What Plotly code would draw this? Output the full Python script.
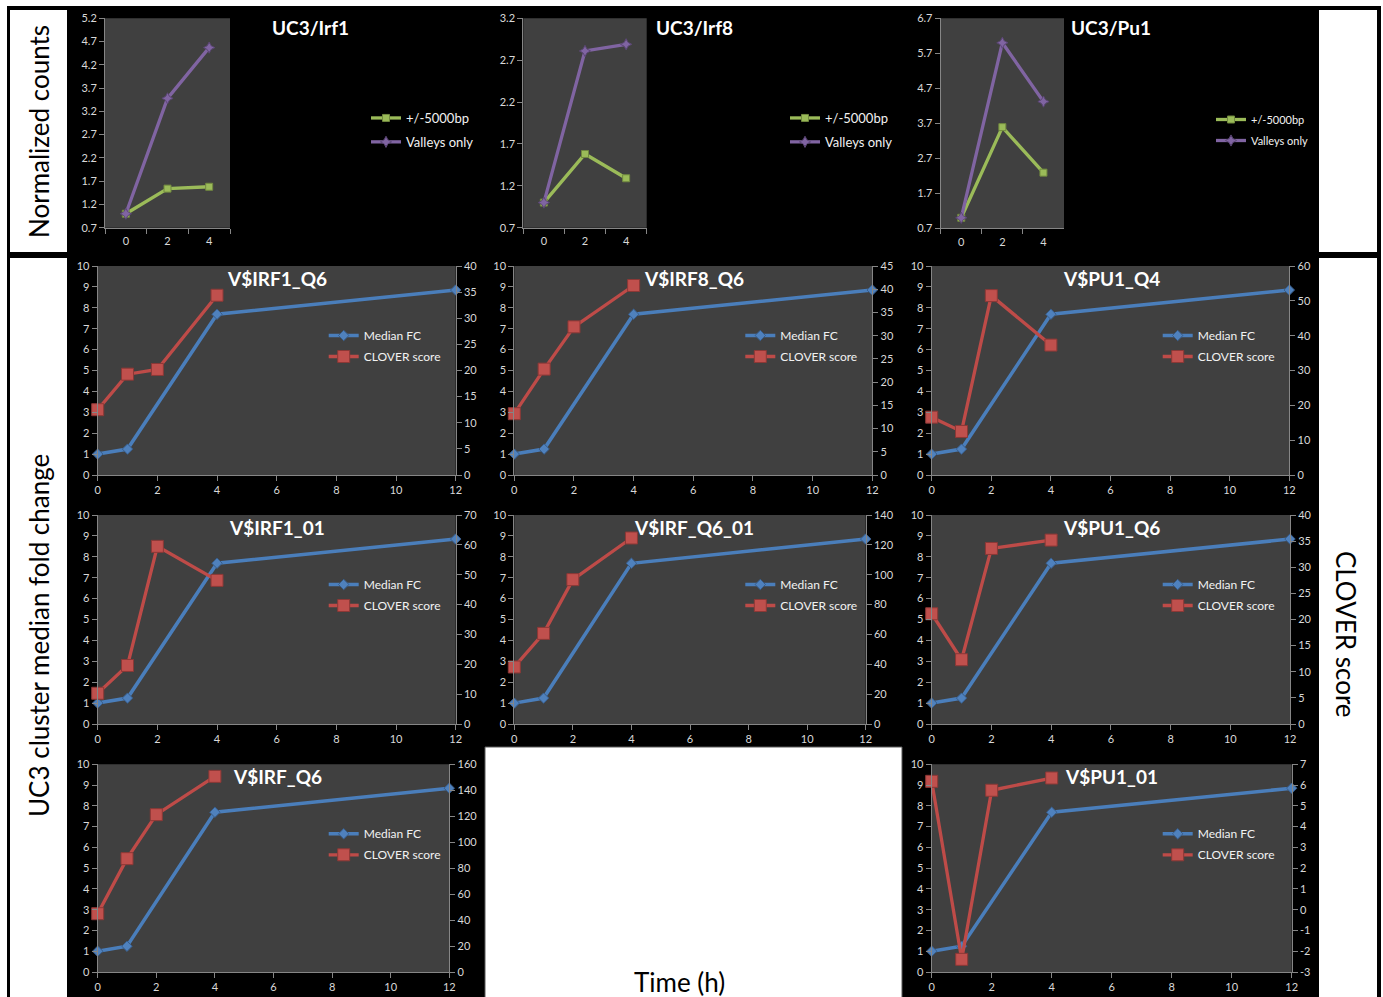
import plotly.graph_objects as go

W, H = 1383, 997

# ---------------- top row: normalized counts (UC3 members) ----------------
count_times = ["0", "2", "4"]
irf1_5000bp = [1.0, 1.54, 1.58]
irf1_valleys = [1.0, 3.48, 4.57]
irf8_5000bp = [1.0, 1.58, 1.29]
irf8_valleys = [1.0, 2.81, 2.89]
pu1_5000bp = [1.0, 3.59, 2.29]
pu1_valleys = [1.0, 6.0, 4.32]

# ---------------- median fold change and CLOVER scores ----------------
fc_times = [0, 1, 4, 12]
median_fc = [1.0, 1.24, 7.69, 8.85]
clover_times = [0, 1, 2, 4]
clover_irf1_q6 = [12.5, 19.3, 20.2, 34.4]
clover_irf8_q6 = [13.2, 22.8, 31.9, 40.8]
clover_pu1_q4 = [16.6, 12.5, 51.5, 37.3]
clover_irf1_01 = [10.3, 19.6, 59.5, 48.1]
clover_irf_q6_01 = [38.2, 60.7, 96.7, 124.6]
clover_pu1_q6 = [21.1, 12.3, 33.6, 35.2]
clover_irf_q6 = [44.9, 87.3, 121.2, 150.7]
clover_pu1_01 = [6.18, -2.39, 5.75, 6.34]

# ---------------- styling ----------------
FONT = "Lato, 'Open Sans', sans-serif"
AX_LINE = "#868686"
TICK_COLOR = "#d9d9d9"
PLOT_BG = "#404040"
BLUE, BLUE_DARK = "#4f81bd", "#385d8a"
RED, RED_DARK = "#c0504d", "#8c3836"
GREEN, GREEN_DARK = "#9bbb59", "#71893f"
PURPLE, PURPLE_DARK = "#8064a2", "#5c4776"


def fx(px):
    """pixel column -> paper x"""
    return px / W


def fy(py):
    """pixel row -> paper y"""
    return 1 - py / H


def axname(kind, i):
    return f"{kind}axis" if i == 1 else f"{kind}axis{i}"


def axref(kind, i):
    return kind if i == 1 else f"{kind}{i}"


def legname(i):
    return "legend" if i == 1 else f"legend{i}"


fig = go.Figure()
layout = {}
shapes = []
annotations = []

# page frame: black band with white label boxes
shapes.append(dict(type="rect", xref="paper", yref="paper", x0=fx(7), x1=fx(1381),
                   y0=fy(1000), y1=fy(6), fillcolor="black", line_width=0, layer="below"))
for (bx0, by0, bx1, by1) in [(10, 10, 67, 252), (10, 258, 67, 1000),
                             (1319, 10, 1377, 252), (1319, 258, 1377, 1000)]:
    shapes.append(dict(type="rect", xref="paper", yref="paper", x0=fx(bx0), x1=fx(bx1),
                       y0=fy(by1), y1=fy(by0), fillcolor="white", line_width=0, layer="below"))
shapes.append(dict(type="rect", xref="paper", yref="paper", x0=fx(485), x1=fx(902),
                   y0=fy(1000), y1=fy(747), fillcolor="white",
                   line=dict(color="#595959", width=1), layer="below"))

tick_font_top = dict(family=FONT, size=11, color=TICK_COLOR)
tick_font = dict(family=FONT, size=11, color=TICK_COLOR)

# ---------------- top row ----------------
top_panels = [
    dict(title="UC3/Irf1", bp=irf1_5000bp, valleys=irf1_valleys, yr=(0.7, 5.2), dt=0.5,
         box=(105, 230, 18.3, 227.7), tx=310, leg=(366, 103), lfs=13, gap=4),
    dict(title="UC3/Irf8", bp=irf8_5000bp, valleys=irf8_valleys, yr=(0.7, 3.2), dt=0.5,
         box=(523.3, 646.7, 18.3, 227.7), tx=694, leg=(785, 103), lfs=13, gap=4),
    dict(title="UC3/Pu1", bp=pu1_5000bp, valleys=pu1_valleys, yr=(0.7, 6.7), dt=1.0,
         box=(940.7, 1064, 18.3, 228.3), tx=1111, leg=(1211, 105), lfs=11, gap=2),
]

for k, p in enumerate(top_panels):
    i = k + 1
    x0, x1, y0, y1 = p["box"]
    layout[axname("x", i)] = dict(
        domain=[fx(x0), fx(x1)], anchor=axref("y", i), type="category",
        range=[-0.5, 2.5], showline=True, linecolor=AX_LINE, ticks="outside",
        tickson="boundaries", ticklen=5, tickcolor=AX_LINE, tickfont=tick_font_top,
        ticklabelstandoff=3, showgrid=False, zeroline=False)
    layout[axname("y", i)] = dict(
        domain=[fy(y1), fy(y0)], anchor=axref("x", i), range=list(p["yr"]),
        tick0=p["yr"][0], dtick=p["dt"], showline=True, linecolor=AX_LINE,
        ticks="outside", ticklen=5, tickcolor=AX_LINE, tickfont=tick_font_top,
        showgrid=False, zeroline=False)
    shapes.append(dict(type="rect", xref=f"{axref('x', i)} domain", yref=f"{axref('y', i)} domain",
                       x0=0, x1=1, y0=0, y1=1, fillcolor=PLOT_BG, line_width=0, layer="below"))
    fig.add_trace(go.Scatter(
        x=count_times, y=p["bp"], name="+/-5000bp", mode="lines+markers",
        xaxis=axref("x", i), yaxis=axref("y", i), legend=legname(i), legendgroup=f"t{i}a",
        line=dict(color=GREEN, width=3.3), cliponaxis=False,
        marker=dict(symbol="square", size=7, color=GREEN, line=dict(color=GREEN_DARK, width=1))))
    fig.add_trace(go.Scatter(
        x=count_times, y=p["valleys"], name="Valleys only", mode="lines+markers",
        xaxis=axref("x", i), yaxis=axref("y", i), legend=legname(i), legendgroup=f"t{i}b",
        line=dict(color=PURPLE, width=3.3), cliponaxis=False,
        marker=dict(symbol="star-diamond", size=8, color=PURPLE, line=dict(color=PURPLE_DARK, width=1))))
    layout[legname(i)] = dict(
        x=fx(p["leg"][0]), y=fy(p["leg"][1]), xanchor="left", yanchor="top",
        bgcolor="rgba(0,0,0,0)", itemwidth=30, tracegroupgap=p["gap"],
        font=dict(family=FONT, size=p["lfs"], color="#f2f2f2"))
    annotations.append(dict(text=f"<b>{p['title']}</b>", x=fx(p["tx"]), y=fy(27),
                            xref="paper", yref="paper", showarrow=False,
                            xanchor="center", yanchor="middle",
                            font=dict(family=FONT, size=19, color="white")))

# ---------------- fold change / CLOVER panels ----------------
motif_panels = [
    dict(title="V$IRF1_Q6", clover=clover_irf1_q6, yr=(0, 40), dt=5,
         box=(97.7, 455.7, 266, 475), cx=277),
    dict(title="V$IRF8_Q6", clover=clover_irf8_q6, yr=(0, 45), dt=5,
         box=(514.3, 872.3, 266, 475), cx=694),
    dict(title="V$PU1_Q4", clover=clover_pu1_q4, yr=(0, 60), dt=10,
         box=(931.7, 1289.3, 266, 475), cx=1111),
    dict(title="V$IRF1_01", clover=clover_irf1_01, yr=(0, 70), dt=10,
         box=(97.7, 455.7, 515, 724), cx=277),
    dict(title="V$IRF_Q6_01", clover=clover_irf_q6_01, yr=(0, 140), dt=20,
         box=(514.3, 865.7, 515, 724), cx=694),
    dict(title="V$PU1_Q6", clover=clover_pu1_q6, yr=(0, 40), dt=5,
         box=(931.7, 1290, 515, 724), cx=1111),
    dict(title="V$IRF_Q6", clover=clover_irf_q6, yr=(0, 160), dt=20,
         box=(97.7, 449.3, 764.3, 972), cx=277),
    dict(title="V$PU1_01", clover=clover_pu1_01, yr=(-3, 7), dt=1,
         box=(931.7, 1291.7, 764.3, 972), cx=1111),
]

n_motif = len(motif_panels)
for k, p in enumerate(motif_panels):
    i = k + 4                 # x axis / left y axis index
    j = i + n_motif           # right y axis index
    x0, x1, y0, y1 = p["box"]
    layout[axname("x", i)] = dict(
        domain=[fx(x0), fx(x1)], anchor=axref("y", i), range=[0, 12], tick0=0, dtick=2,
        showline=True, linecolor=AX_LINE, ticks="outside", ticklen=5, tickcolor=AX_LINE,
        tickfont=tick_font, showgrid=False, zeroline=False)
    layout[axname("y", i)] = dict(
        domain=[fy(y1), fy(y0)], anchor=axref("x", i), range=[0, 10], tick0=0, dtick=1,
        showline=True, linecolor=AX_LINE, ticks="outside", ticklen=5, tickcolor=AX_LINE,
        tickfont=tick_font, showgrid=False, zeroline=False)
    lo, hi = p["yr"]
    right_vals = list(range(lo, hi + 1, p["dt"]))
    layout[axname("y", j)] = dict(
        overlaying=axref("y", i), anchor=axref("x", i), side="right", range=[lo, hi],
        tickvals=right_vals, ticktext=[str(v) for v in right_vals],
        showline=True, linecolor=AX_LINE, ticks="outside", ticklen=5, tickcolor=AX_LINE,
        tickfont=tick_font, showgrid=False, zeroline=False)
    shapes.append(dict(type="rect", xref=f"{axref('x', i)} domain", yref=f"{axref('y', i)} domain",
                       x0=0, x1=1, y0=0, y1=1, fillcolor=PLOT_BG, line_width=0, layer="below"))
    fig.add_trace(go.Scatter(
        x=fc_times, y=median_fc, name="Median FC", mode="lines+markers",
        xaxis=axref("x", i), yaxis=axref("y", i), legend=legname(i), legendgroup=f"m{i}a",
        line=dict(color="#4a7ebb", width=3.5), cliponaxis=False,
        marker=dict(symbol="diamond", size=8, color=BLUE, line=dict(color=BLUE_DARK, width=1))))
    fig.add_trace(go.Scatter(
        x=clover_times, y=p["clover"], name="CLOVER score", mode="lines+markers",
        xaxis=axref("x", i), yaxis=axref("y", j), legend=legname(i), legendgroup=f"m{i}b",
        line=dict(color="#be4b48", width=3.3), cliponaxis=False,
        marker=dict(symbol="square", size=12, color=RED, line=dict(color=RED_DARK, width=1))))
    layout[legname(i)] = dict(
        x=fx(x0 + 226), y=fy(y0 + 55), xanchor="left", yanchor="top",
        bgcolor="rgba(0,0,0,0)", itemwidth=30, tracegroupgap=2,
        font=dict(family=FONT, size=12, color="#f2f2f2"))
    annotations.append(dict(text=f"<b>{p['title']}</b>", x=fx(p["cx"]), y=fy(y0 + 12),
                            xref="paper", yref="paper", showarrow=False,
                            xanchor="center", yanchor="middle",
                            font=dict(family=FONT, size=19, color="white")))

# ---------------- shared axis titles ----------------
big = dict(family=FONT, size=26, color="black")
annotations += [
    dict(text="Normalized counts", x=fx(39), y=fy(132), textangle=-90),
    dict(text="UC3 cluster median fold change", x=fx(39), y=fy(636), textangle=-90),
    dict(text="CLOVER score", x=fx(1346), y=fy(634), textangle=90),
    dict(text="Time (h)", x=fx(679), y=fy(982), textangle=0),
]
for a in annotations[-4:]:
    a.update(xref="paper", yref="paper", showarrow=False, xanchor="center",
             yanchor="middle", font=big)

fig.update_layout(
    width=W, height=H, margin=dict(l=0, r=0, t=0, b=0, autoexpand=False),
    paper_bgcolor="white", plot_bgcolor="rgba(0,0,0,0)",
    showlegend=True, shapes=shapes, annotations=annotations,
    font=dict(family=FONT), **layout)

fig.write_html("out.html")
